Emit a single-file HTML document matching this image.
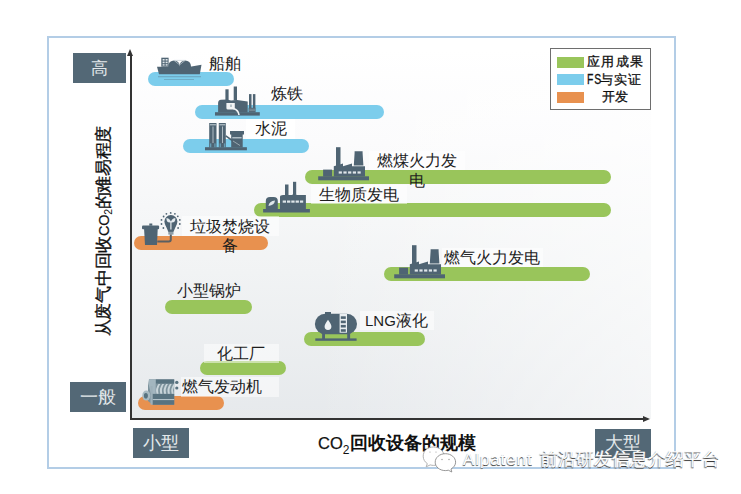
<!DOCTYPE html>
<html><head><meta charset="utf-8">
<style>
html,body{margin:0;padding:0;background:#fff;width:741px;height:494px;overflow:hidden;position:relative;font-family:"Liberation Sans",sans-serif;}
.a{position:absolute;}
.frame{left:47px;top:36px;width:625px;height:429px;border:2px solid #b3cde6;}
.plot{left:131px;top:50px;width:520px;height:369px;background:linear-gradient(90deg,rgba(255,255,255,0) 35%,rgba(255,255,255,0.55) 100%),linear-gradient(180deg,#ffffff 0%,#fbfbfc 25%,#f1f3f4 60%,#e6e9ec 100%);}
.box{background:#536876;color:#e3e8eb;font-size:18px;text-align:center;}
.bar{height:14px;border-radius:7px;}
.g{background:#99c55b;}
.b{background:#7ccdec;}
.o{background:#e8914f;}
.lbl{font-size:16px;color:#1e1e1e;line-height:19px;white-space:nowrap;background:rgba(255,255,255,0.5);}
.ic{fill:#4f6473;}
.leg{font-size:13px;letter-spacing:1.4px;color:#111;line-height:17px;white-space:nowrap;-webkit-text-stroke:0.3px #111;}
</style></head><body>
<div class="a frame"></div>
<div class="a plot"></div>

<!-- axes -->
<div class="a" style="left:130px;top:54px;width:2px;height:366px;background:#333;"></div>
<div class="a" style="left:127px;top:49px;width:0;height:0;border-left:3.5px solid transparent;border-right:3.5px solid transparent;border-bottom:7px solid #333;"></div>
<div class="a" style="left:130px;top:418px;width:515px;height:2px;background:#333;"></div>
<div class="a" style="left:643px;top:415.5px;width:0;height:0;border-top:3.5px solid transparent;border-bottom:3.5px solid transparent;border-left:7px solid #333;"></div>

<!-- corner boxes -->
<div class="a box" style="left:73px;top:53px;width:53px;height:30px;line-height:32px;font-size:17px;">高</div>
<div class="a box" style="left:70px;top:382px;width:56px;height:30px;line-height:30px;">一般</div>
<div class="a box" style="left:133px;top:428px;width:56px;height:30px;line-height:30px;">小型</div>
<div class="a box" style="left:595px;top:429px;width:56px;height:29px;line-height:29px;">大型</div>

<!-- bars -->
<div class="a bar b" style="left:148px;top:72px;width:86px;"></div>
<div class="a bar b" style="left:195px;top:105px;width:189px;"></div>
<div class="a bar b" style="left:183px;top:139px;width:126px;"></div>
<div class="a bar g" style="left:305px;top:170px;width:306px;"></div>
<div class="a bar g" style="left:254px;top:203px;width:357px;"></div>
<div class="a bar o" style="left:134px;top:236px;width:134px;"></div>
<div class="a bar g" style="left:384px;top:267px;width:206px;"></div>
<div class="a bar g" style="left:165px;top:300px;width:87px;"></div>
<div class="a bar g" style="left:304px;top:332px;width:121px;"></div>
<div class="a bar g" style="left:200px;top:361px;width:86px;"></div>
<div class="a bar o" style="left:138px;top:396px;width:86px;"></div>


<!-- icons -->
<svg class="a" style="left:0;top:0" width="741" height="494" viewBox="0 0 741 494">
 <g fill="#4f6473">
  <!-- ship -->
  <path d="M157,66.8 L190,66.8 L201.5,64.8 L199.8,74.3 L159,74.3 Z"/>
  <rect x="161.3" y="57.7" width="7.3" height="9"/>
  <circle cx="174" cy="66.2" r="5.8"/>
  <circle cx="185.2" cy="66.2" r="5.8"/>
  <rect x="158" y="76.3" width="43" height="0.9" opacity="0.45"/>
  <rect x="164" y="79" width="30" height="0.9" opacity="0.35"/>
 </g>
 <g fill="#dfe6ea">
  <rect x="162.6" y="59" width="2" height="1.6"/><rect x="165.6" y="59" width="2" height="1.6"/>
  <rect x="162.6" y="61.6" width="2" height="1.6"/><rect x="165.6" y="61.6" width="2" height="1.6"/>
  <rect x="162.6" y="64.2" width="2" height="1.4"/><rect x="165.6" y="64.2" width="2" height="1.4"/>
 </g>
 <path d="M174,60.4 L185.2,60.4 L179.6,64.8 Z" fill="none" stroke="#c3ced4" stroke-width="0.7"/>

 <!-- steel -->
 <g fill="#4f6473">
  <rect x="215" y="112.2" width="44.8" height="3.4"/>
  <path d="M218.1,112.4 L218.1,103 Q218.1,100 221,99.8 L227,99.4 L231,100.5 L237,100 L247.7,101.5 L247.7,112.4 Z"/>
  <rect x="225.4" y="89.3" width="3.2" height="11"/>
  <rect x="233.7" y="86.5" width="3.3" height="14"/>
  <rect x="249" y="94.1" width="2.5" height="14"/>
  <rect x="252.9" y="94.1" width="2.5" height="14"/>
  <rect x="248.6" y="107.8" width="7" height="4.6"/>
 </g>
 <path d="M226.4,103 L234.8,103 L234.8,109.5 L228,109.5 Q226.4,109.5 226.4,108 Z" fill="#f2f4f5"/>
 <path d="M233.3,108.5 Q238.5,110 239,115" fill="none" stroke="#f2f4f5" stroke-width="1.6"/>
 <rect x="230" y="104.5" width="2" height="2.5" fill="#b8c4ca"/>
 <g fill="#8fa0aa"><rect x="249.2" y="108.8" width="6" height="0.7"/><rect x="249.2" y="110.4" width="6" height="0.7"/></g>

 <!-- cement -->
 <g fill="#4f6473">
  <rect x="205" y="147.2" width="41.9" height="3.1"/>
  <rect x="209.2" y="123" width="7.3" height="24.5"/>
  <rect x="218.8" y="123" width="7" height="24.5"/>
  <rect x="230" y="131" width="14" height="3.5"/>
  <rect x="231.2" y="134" width="11.5" height="13.5"/>
 </g>
 <g fill="#c8d3d9">
  <rect x="209.8" y="124.3" width="6.1" height="1"/><rect x="219.4" y="124.3" width="5.8" height="1"/>
  <rect x="212.6" y="126.5" width="0.8" height="16.5"/><rect x="222" y="126.5" width="0.8" height="16.5"/>
  <rect x="232.3" y="137.2" width="9.3" height="1.2"/>
 </g>
 <g fill="#7ccdec" opacity="0.55">
  <rect x="210" y="143.4" width="1.3" height="3.8"/><rect x="214.3" y="143.4" width="1.3" height="3.8"/>
  <rect x="219.6" y="143.4" width="1.3" height="3.8"/><rect x="223.9" y="143.4" width="1.3" height="3.8"/>
 </g>
 <path d="M225.8,135.8 L238.5,145" stroke="#4f6473" stroke-width="1.6"/>
 <path d="M233,141 L240,145.5" stroke="#a9b7bf" stroke-width="0.8"/>

 <!-- coal plant -->
 <g fill="#4f6473">
  <rect x="318.2" y="176.3" width="50.8" height="4"/>
  <rect x="323.1" y="169.6" width="9" height="7"/>
  <path d="M333.8,176.5 L333.8,166.3 L343,163.6 L343,166.3 L352,163.6 L352,166.3 L365,166.3 L365,176.5 Z"/>
  <rect x="336" y="147.2" width="4.5" height="19"/>
  <path d="M354.6,151.3 L362.6,151.3 L362.6,153 L363.4,165.5 L353.8,165.5 L354.6,153 Z"/>
  <g fill="#dfe6ea">
   <rect x="338.7" y="171.4" width="3.2" height="2.2"/><rect x="343.4" y="171.4" width="3.2" height="2.2"/>
   <rect x="348.1" y="171.4" width="3.2" height="2.2"/><rect x="352.8" y="171.4" width="3.2" height="2.2"/>
   <rect x="357.5" y="171.4" width="3.2" height="2.2"/>
  </g>
 </g>
 <g fill="#4f6473" transform="translate(76,98)">
  <rect x="318.2" y="176.3" width="50.8" height="4"/>
  <rect x="323.1" y="169.6" width="9" height="7"/>
  <path d="M333.8,176.5 L333.8,166.3 L343,163.6 L343,166.3 L352,163.6 L352,166.3 L365,166.3 L365,176.5 Z"/>
  <rect x="336" y="147.2" width="4.5" height="19"/>
  <path d="M354.6,151.3 L362.6,151.3 L362.6,153 L363.4,165.5 L353.8,165.5 L354.6,153 Z"/>
  <g fill="#dfe6ea">
   <rect x="338.7" y="171.4" width="3.2" height="2.2"/><rect x="343.4" y="171.4" width="3.2" height="2.2"/>
   <rect x="348.1" y="171.4" width="3.2" height="2.2"/><rect x="352.8" y="171.4" width="3.2" height="2.2"/>
   <rect x="357.5" y="171.4" width="3.2" height="2.2"/>
  </g>
 </g>

 <!-- biomass -->
 <g fill="#4f6473">
  <rect x="263.1" y="209" width="46.8" height="3.5"/>
  <path d="M265.8,209.5 L265.8,201 Q265.8,196.9 270,196.9 L273.6,196.9 Q277.8,196.9 277.8,201 L277.8,209.5 Z"/>
  <path d="M280,209.5 L280,197 Q280,195.1 283,195.1 L292,195.1 L294,193.5 L297,195.1 L305.9,195.1 L305.9,209.5 Z"/>
  <rect x="285" y="184.5" width="3.5" height="11"/>
  <rect x="293" y="181.8" width="3.2" height="13"/>
 </g>
 <g fill="#dfe6ea">
  <rect x="282.7" y="200.5" width="3.3" height="2.2"/><rect x="287" y="200.5" width="3.3" height="2.2"/>
  <rect x="291.3" y="200.5" width="3.3" height="2.2"/><rect x="295.6" y="200.5" width="3.3" height="2.2"/>
  <rect x="299.9" y="200.5" width="3.3" height="2.2"/>
  <path d="M268.5,206 Q269,201 275,200.5 Q274.5,205 268.5,206 Z"/>
 </g>

 <!-- trash + bulb -->
 <g fill="#4f6473">
  <rect x="142" y="225.4" width="17.1" height="3.9" rx="1"/>
  <rect x="149.3" y="223.5" width="3" height="2.2"/>
  <path d="M144.1,229 L157.7,229 L157,245 L145,245 Z"/>
  <circle cx="170.9" cy="221.6" r="6.5"/>
  <path d="M165.2,224.5 L176.6,224.5 L173.4,231.9 L168.4,231.9 Z"/>
  <g>
   <circle cx="163.6" cy="216.5" r="0.9"/><circle cx="166.4" cy="213.8" r="0.9"/><circle cx="170.7" cy="212.9" r="0.9"/>
   <circle cx="174.9" cy="213.8" r="0.9"/><circle cx="177.8" cy="216.3" r="0.9"/><circle cx="179.8" cy="219.9" r="0.9"/>
   <circle cx="179.8" cy="224" r="0.9"/><circle cx="178.1" cy="228" r="0.9"/><circle cx="161.5" cy="219.9" r="0.9"/>
   <circle cx="161.5" cy="224" r="0.9"/><circle cx="163.4" cy="228" r="0.9"/>
  </g>
 </g>
 <rect x="168.3" y="231.8" width="5.2" height="2.8" fill="#8c9ca6"/>
 <path d="M157.3,241.6 L168.8,241.6 Q170.8,241.6 170.8,239.6 L170.8,234.5" fill="none" stroke="#5b5f62" stroke-width="2"/>
 <g fill="#e4eaee">
  <rect x="170.3" y="221" width="1.2" height="8.5"/>
  <path d="M170.9,222.5 Q166,223 166.5,218 Q170.5,218.5 170.9,222.5 Z"/>
  <path d="M170.9,222.5 Q175.8,223 175.3,218 Q171.3,218.5 170.9,222.5 Z"/>
 </g>

 <!-- LNG tank -->
 <g fill="#4f6473">
  <rect x="314.9" y="313.7" width="42.1" height="20.6" rx="10.3" ry="10.3"/>
  <rect x="325" y="312" width="6" height="2.5"/>
  <rect x="322.1" y="333" width="2.9" height="6"/>
  <rect x="347.2" y="333" width="2.9" height="6"/>
  <rect x="315.3" y="338.4" width="41.3" height="2.4"/>
 </g>
 <rect x="339.6" y="313.7" width="7.4" height="19" fill="#e9eef1"/>
 <g fill="#4f6473">
  <rect x="340.8" y="316.3" width="5" height="2.6"/><rect x="340.8" y="320.6" width="5" height="2.6"/>
  <rect x="340.8" y="324.9" width="5" height="2.6"/><rect x="340.8" y="329.2" width="5" height="2.6"/>
 </g>
 <path d="M328,319.8 Q331.4,324.5 331.4,326.6 A3.4,3.4 0 0 1 324.6,326.6 Q324.6,324.5 328,319.8 Z" fill="#eef2f4"/>

 <!-- engine -->
 <path d="M149,379.3 L174.2,379.3 L174.2,404.7 L152.6,404.7 L148,401 L148,386 Z" fill="#7d939d"/>
 <rect x="155.7" y="379.5" width="18.5" height="4" fill="#587380"/>
 <path d="M149,379.3 L155.7,379.3 L155.7,393.8 L151,393.8 L149,386 Z" fill="#a3b6bf"/>
 <g fill="#c9d5da">
  <path d="M156.5,393.8 Q155,388.5 158.5,384 L160.3,384 Q157.2,388.5 158.5,393.8 Z"/>
  <path d="M160.3,393.8 Q158.8,388.5 162.3,384 L164.1,384 Q161,388.5 162.3,393.8 Z"/>
  <path d="M164.1,393.8 Q162.6,388.5 166.1,384 L167.9,384 Q164.8,388.5 166.1,393.8 Z"/>
  <path d="M167.9,393.8 Q166.4,388.5 169.9,384 L171.7,384 Q168.6,388.5 169.9,393.8 Z"/>
  <path d="M171.7,393.8 Q170.2,388.5 173.7,384 L174.2,384 L174.2,386 Q172.4,389.5 173.7,393.8 Z"/>
 </g>
 <rect x="152.6" y="394" width="21.6" height="10.7" fill="#587380"/>
 <rect x="152.6" y="399" width="21.6" height="1.1" fill="#b4c3ca"/>
 <rect x="150.5" y="386" width="2.1" height="18.7" fill="#9db0b9"/>
 <ellipse cx="146.3" cy="395.6" rx="4" ry="5" fill="#a8bac2"/>
 <ellipse cx="145.9" cy="395.8" rx="2" ry="2.8" fill="#587380"/>
 <circle cx="176.8" cy="382.4" r="1.7" fill="#587380"/>
 <circle cx="176.8" cy="388" r="1.6" fill="#587380"/>

 </svg>

<!-- labels -->
<div class="a lbl" style="left:206px;top:54px;padding:0 3px;background:none;">船舶</div>
<div class="a lbl" style="left:268px;top:84px;padding:0 3px;background:none;">炼铁</div>
<div class="a lbl" style="left:246px;top:119px;width:49px;height:20px;background:#fff;"><span style="position:absolute;left:9px;top:0">水泥</span></div>
<div class="a lbl" style="left:369px;top:151px;width:96px;height:19px;"><span class="a" style="left:6.5px;top:0;white-space:normal;width:82px;text-align:center;line-height:20px">燃煤火力发电</span></div>
<div class="a lbl" style="left:311px;top:185px;width:96px;height:19px;"><span class="a" style="left:8px;top:0">生物质发电</span></div>
<div class="a lbl" style="left:182px;top:216px;width:97px;height:20px;"><span class="a" style="left:7px;top:1px;white-space:normal;width:82px;text-align:center;line-height:19px">垃圾焚烧设备</span></div>
<div class="a lbl" style="left:442px;top:248px;width:101px;height:19px;"><span class="a" style="left:1.5px;top:0">燃气火力发电</span></div>
<div class="a lbl" style="left:174px;top:281px;padding:0 3px;background:none;">小型锅炉</div>
<div class="a lbl" style="left:360px;top:311px;width:74px;height:19px;"><span class="a" style="left:5px;top:0"><span style="font-size:15px">LNG</span>液化</span></div>
<div class="a lbl" style="left:204px;top:344px;width:75px;height:19px;"><span class="a" style="left:13px;top:0">化工厂</span></div>
<div class="a lbl" style="left:181px;top:377px;width:98px;height:20px;"><span class="a" style="left:1px;top:0">燃气发动机</span></div>

<!-- axis titles -->
<div class="a" style="left:318px;top:432px;font-size:18px;line-height:22px;color:#111;white-space:nowrap;"><span style="font-size:16.5px;-webkit-text-stroke:0.25px #111">CO</span><span style="font-size:12px;position:relative;top:5px;">2</span><b style="margin-left:1px">回收设备的规模</b></div>
<div class="a" style="left:104px;top:230px;width:0;height:0;">
 <div class="a" style="left:-120px;top:-11px;width:240px;text-align:center;transform:rotate(-90deg);font-size:16.5px;letter-spacing:-0.3px;color:#111;white-space:nowrap;line-height:22px;"><span style="-webkit-text-stroke:0.35px #111">从废气中回收</span><span style="font-size:14.5px;-webkit-text-stroke:0.25px #111">CO</span><span style="font-size:10.5px;position:relative;top:3px;">2</span><span style="-webkit-text-stroke:0.35px #111">的难易程度</span></div>
</div>

<!-- legend -->
<div class="a" style="left:550px;top:48px;width:99px;height:60px;border:1.5px solid #6e6e6e;background:#fff;"></div>
<div class="a g" style="left:557px;top:57px;width:27px;height:11px;"></div>
<div class="a b" style="left:557px;top:74px;width:27px;height:11px;"></div>
<div class="a o" style="left:557px;top:92px;width:27px;height:11px;"></div>
<div class="a leg" style="left:587px;top:53px;">应用成果</div>
<div class="a leg" style="left:587px;top:71px;"><span style="display:inline-block;font-size:14px;transform:scaleX(0.74);transform-origin:0 50%;width:12.5px;-webkit-text-stroke:0.3px #111">FS</span>与实证</div>
<div class="a leg" style="left:601.5px;top:88px;letter-spacing:0.8px">开发</div>

<!-- watermark -->
<svg class="a" style="left:0;top:0" width="741" height="494" viewBox="0 0 741 494">
<!-- wechat watermark icon -->
 <path d="M433.5,447 C427.5,447 423.2,451 423.2,456.2 C423.2,459.3 424.8,462 427.3,463.6 L426.2,466.8 L430.2,464.9 C431.3,465.2 432.4,465.4 433.5,465.4 C439.5,465.4 444,461.3 444,456.2 C444,451 439.5,447 433.5,447 Z" fill="#fff" stroke="#a8a8a8" stroke-width="0.9"/>
 <path d="M445.4,453.7 C439.6,453.7 435.2,457.5 435.2,462.2 C435.2,466.8 439.6,470.6 445.4,470.6 C446.4,470.6 447.4,470.4 448.3,470.2 L451.8,472 L451,469 C453.8,467.5 455.6,465 455.6,462.2 C455.6,457.5 451.2,453.7 445.4,453.7 Z" fill="#fff" stroke="#8a8a8a" stroke-width="0.9"/>
 <g fill="#999"><circle cx="442" cy="459.5" r="0.7"/><circle cx="449" cy="459.5" r="0.7"/><circle cx="430" cy="452" r="0.6"/><circle cx="436" cy="452" r="0.6"/></g>
</svg>

<div class="a" style="left:463px;top:448.5px;font-size:17px;letter-spacing:0.9px;color:#fff;white-space:nowrap;text-shadow:0 1px 0 #3a3a3a, -0.5px 1px 1px #888;-webkit-text-stroke:0.3px #fff;line-height:22px;">Alpatent</div>
<div class="a" style="left:539.5px;top:448px;font-size:18px;color:#fff;white-space:nowrap;text-shadow:0 1px 0 #3a3a3a, -0.5px 1px 1px #888;-webkit-text-stroke:0.3px #fff;line-height:22px;">前沿研发信息介绍平台</div>

</body></html>
